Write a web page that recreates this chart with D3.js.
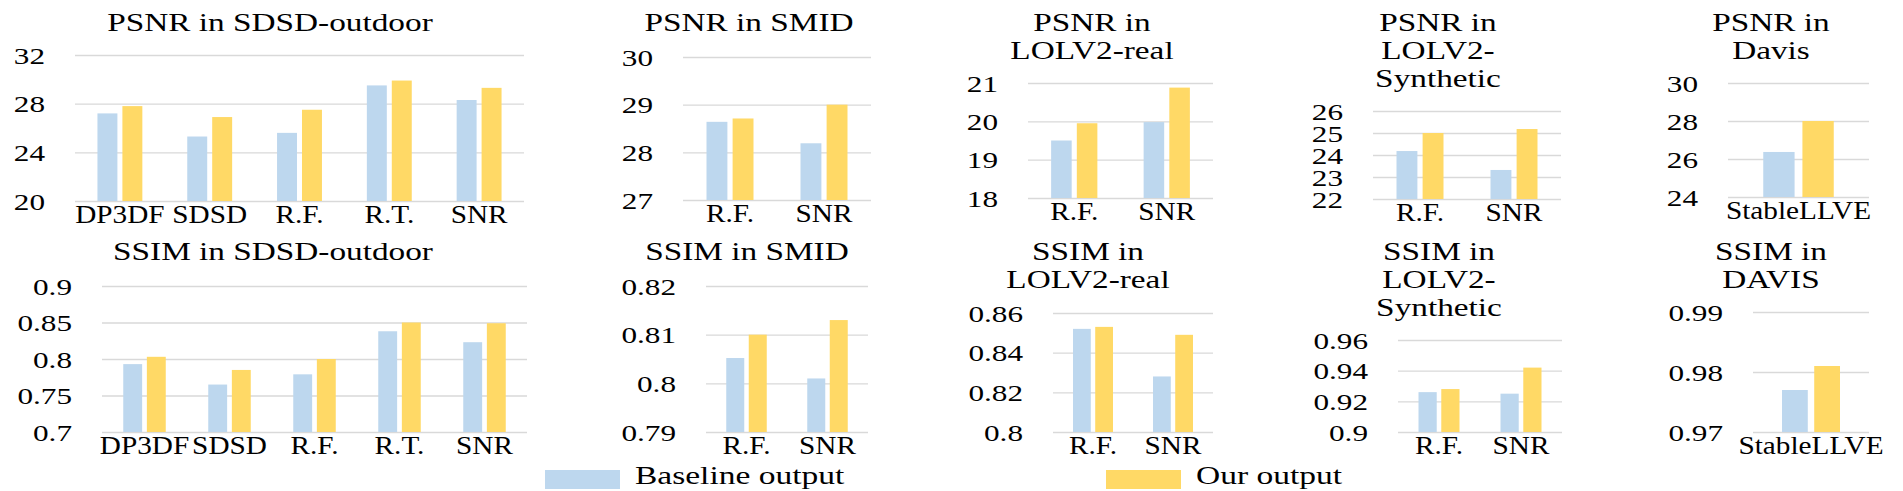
<!DOCTYPE html>
<html>
<head>
<meta charset="utf-8">
<script src="https://cdn.jsdelivr.net/npm/d3@7"></script>
<style>
  body { margin: 0; background: #fff; }
  svg, svg text { font-family: "Liberation Serif", "Times New Roman", serif; }
</style>
</head>
<body>
<svg id="chart" width="1903" height="491"></svg>
<script>
// ---- data ----
const sdsdCats = ["DP3DF", "SDSD", "R.F.", "R.T.", "SNR"];
const twoCats = ["R.F.", "SNR"];
const davisCats = ["StableLLVE"];

const psnrSdsdTicks = [20, 24, 28, 32];
const psnrSdsdBase = [27.2, 25.3, 25.6, 29.5, 28.3];
const psnrSdsdOurs = [27.8, 26.9, 27.5, 29.9, 29.3];

const psnrSmidTicks = [27, 28, 29, 30];
const psnrSmidBase = [28.64, 28.19];
const psnrSmidOurs = [28.71, 29.0];

const psnrRealTicks = [18, 19, 20, 21];
const psnrRealBase = [19.5, 19.98];
const psnrRealOurs = [19.95, 20.88];

const psnrSynTicks = [22, 23, 24, 25, 26];
const psnrSynBase = [24.18, 23.32];
const psnrSynOurs = [25.0, 25.18];

const psnrDavisTicks = [24, 26, 28, 30];
const psnrDavisBase = [26.37];
const psnrDavisOurs = [28.0];

const ssimSdsdTicks = [0.7, 0.75, 0.8, 0.85, 0.9];
const ssimSdsdBase = [0.793, 0.765, 0.779, 0.838, 0.823];
const ssimSdsdOurs = [0.803, 0.785, 0.800, 0.850, 0.849];

const ssimSmidTicks = [0.79, 0.8, 0.81, 0.82];
const ssimSmidBase = [0.8052, 0.801];
const ssimSmidOurs = [0.810, 0.813];

const ssimRealTicks = [0.8, 0.82, 0.84, 0.86];
const ssimRealBase = [0.852, 0.828];
const ssimRealOurs = [0.853, 0.849];

const ssimSynTicks = [0.9, 0.92, 0.94, 0.96];
const ssimSynBase = [0.926, 0.925];
const ssimSynOurs = [0.928, 0.942];

const ssimDavisTicks = [0.97, 0.98, 0.99];
const ssimDavisBase = [0.977];
const ssimDavisOurs = [0.981];

const seriesNames = ["Baseline output", "Our output"];
const colors = { base: "#bdd7ee", ours: "#ffd966" };

// ---- layout of the ten small charts ----
const panels = [
  { title: ["PSNR in SDSD-outdoor"], tx: 270, row: 0, left: 75, right: 524, top: 55, bottom: 201,
    cats: sdsdCats, ticks: psnrSdsdTicks, base: psnrSdsdBase, ours: psnrSdsdOurs },
  { title: ["PSNR in SMID"], tx: 749, row: 0, left: 683, right: 871, top: 57, bottom: 200,
    cats: twoCats, ticks: psnrSmidTicks, base: psnrSmidBase, ours: psnrSmidOurs },
  { title: ["PSNR in", "LOLV2-real"], tx: 1092, row: 0, left: 1028, right: 1213, top: 83, bottom: 198,
    cats: twoCats, ticks: psnrRealTicks, base: psnrRealBase, ours: psnrRealOurs },
  { title: ["PSNR in", "LOLV2-", "Synthetic"], tx: 1438, row: 0, left: 1373, right: 1561, top: 111, bottom: 199,
    cats: twoCats, ticks: psnrSynTicks, base: psnrSynBase, ours: psnrSynOurs },
  { title: ["PSNR in", "Davis"], tx: 1771, row: 0, left: 1728, right: 1869, top: 83, bottom: 197,
    cats: davisCats, ticks: psnrDavisTicks, base: psnrDavisBase, ours: psnrDavisOurs },
  { title: ["SSIM in SDSD-outdoor"], tx: 273, row: 1, left: 102, right: 527, top: 286, bottom: 432,
    cats: sdsdCats, ticks: ssimSdsdTicks, base: ssimSdsdBase, ours: ssimSdsdOurs },
  { title: ["SSIM in SMID"], tx: 747, row: 1, left: 706, right: 868, top: 286, bottom: 432,
    cats: twoCats, ticks: ssimSmidTicks, base: ssimSmidBase, ours: ssimSmidOurs },
  { title: ["SSIM in", "LOLV2-real"], tx: 1088, row: 1, left: 1053, right: 1213, top: 313, bottom: 432,
    cats: twoCats, ticks: ssimRealTicks, base: ssimRealBase, ours: ssimRealOurs },
  { title: ["SSIM in", "LOLV2-", "Synthetic"], tx: 1439, row: 1, left: 1398, right: 1562, top: 340, bottom: 432,
    cats: twoCats, ticks: ssimSynTicks, base: ssimSynBase, ours: ssimSynOurs },
  { title: ["SSIM in", "DAVIS"], tx: 1771, row: 1, left: 1753, right: 1869, top: 312, bottom: 432,
    cats: davisCats, ticks: ssimDavisTicks, base: ssimDavisBase, ours: ssimDavisOurs }
];
const titleBase = [31, 260];   // first title line baseline per row
const titleStep = 27.8;

const svg = d3.select("#chart");

// the original's lettering is stretched sideways: widen glyphs via textLength
function wideText(sel, sx) {
  sel.attr("fill", "#000").each(function () {
    const w = this.getComputedTextLength();
    d3.select(this).attr("textLength", w * sx).attr("lengthAdjust", "spacingAndGlyphs");
  });
}

function drawPanel(p) {
  const g = svg.append("g");
  const y = d3.scaleLinear().domain([p.ticks[0], p.ticks[p.ticks.length - 1]]).range([p.bottom, p.top]);
  const x0 = d3.scaleBand().domain(p.cats).range([p.left, p.right]).paddingInner(0.5).paddingOuter(0.25);
  const x1 = d3.scaleBand().domain(["base", "ours"]).range([0, x0.bandwidth()]).paddingInner(0.2);

  // gridlines + y labels
  const ya = g.append("g")
    .attr("transform", `translate(${p.left},0)`)
    .call(d3.axisLeft(y)
      .tickValues(p.ticks)
      .tickSizeInner(-(p.right - p.left))
      .tickSizeOuter(0)
      .tickPadding(30)
      .tickFormat(d => String(+d.toFixed(3))));
  ya.attr("font-family", null).attr("font-size", null);
  ya.select(".domain").remove();
  ya.selectAll("line").attr("stroke", "#d9d9d9").attr("stroke-width", 1.3);
  ya.selectAll("text")
    .attr("font-size", 24)
    .attr("dy", null)
    .attr("y", 8)
    .call(wideText, 1.3);

  // bars
  const rows = p.cats.map((c, i) => ({ cat: c, vals: [{ k: "base", v: p.base[i] }, { k: "ours", v: p.ours[i] }] }));
  g.selectAll("g.cat")
    .data(rows)
    .join("g")
    .attr("class", "cat")
    .attr("transform", d => `translate(${x0(d.cat)},0)`)
    .selectAll("rect")
    .data(d => d.vals)
    .join("rect")
    .attr("x", d => x1(d.k))
    .attr("width", x1.bandwidth())
    .attr("y", d => y(d.v))
    .attr("height", d => y.range()[0] - y(d.v))
    .attr("fill", d => colors[d.k]);

  // category labels
  const xa = g.append("g")
    .attr("transform", `translate(0,${p.bottom})`)
    .call(d3.axisBottom(x0).tickSize(0));
  xa.attr("font-family", null).attr("font-size", null);
  xa.select(".domain").remove();
  xa.selectAll("text")
    .attr("font-size", 25)
    .attr("dy", null)
    .attr("y", 21.5)
    .call(wideText, 1.17);

  // title
  g.selectAll("text.title")
    .data(p.title)
    .join("text")
    .attr("class", "title")
    .attr("text-anchor", "middle")
    .attr("font-size", 26)
    .attr("x", p.tx)
    .attr("y", (d, i) => titleBase[p.row] + i * titleStep)
    .text(d => d)
    .call(wideText, 1.28);
}

panels.forEach(drawPanel);

// legend
const legendX = [545, 1106];
const lg = svg.append("g").selectAll("g")
  .data(seriesNames)
  .join("g")
  .attr("transform", (d, i) => `translate(${legendX[i]},470)`);
lg.append("rect")
  .attr("width", 75)
  .attr("height", 19)
  .attr("fill", (d, i) => colors[i === 0 ? "base" : "ours"]);
lg.append("text")
  .attr("font-size", 25)
  .attr("x", 90)
  .attr("y", 14)
  .text(d => d)
  .call(wideText, 1.34);
</script>
</body>
</html>
